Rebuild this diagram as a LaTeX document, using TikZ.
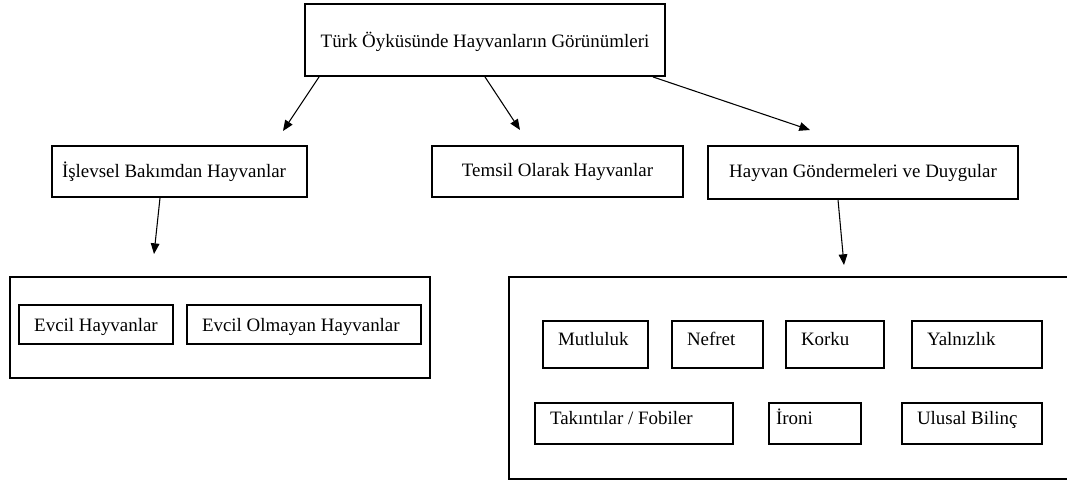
\documentclass[tikz,border=0pt]{standalone}
\usepackage{fontspec}
\setmainfont{Liberation Serif}
\usetikzlibrary{arrows.meta}

% sola yaslanmis yazi, verilen genislikte
\newcommand{\solyazi}[2]{\makebox[#1][l]{#2}}

\begin{document}
\begin{tikzpicture}[
  x=0.75pt, y=-0.75pt,
  font=\fontsize{14.2pt}{17pt}\selectfont,
  kutu/.style  = {draw, line width=1pt, inner sep=0pt},
  ana/.style   = {kutu, line width=1.4pt, align=center},
  grup/.style  = {draw, line width=1.3pt, inner sep=0pt},
  duygu/.style = {kutu, inner xsep=11.25pt, text height=0.7em, text depth=0.55em,
                  minimum height=35.25pt},
  ok/.style    = {-{Triangle[length=8pt, width=6.5pt]}, line width=0.8pt}
]
\useasboundingbox (0,0) rectangle (1067,481);
\clip (0,0) rectangle (1067,481);

% ------------------------------------------------------------- ust duzey --
\node[ana, minimum width=270pt, minimum height=54pt,
      text height=1.1em, text depth=0pt]         (ust)      at (485,40)    {Türk Öyküsünde Hayvanların Görünümleri};

\node[kutu, inner xsep=7.5pt,
      minimum height=38.25pt]                     (islevsel) at (179.5,171.5) {\solyazi{176.25pt}{İşlevsel Bakımdan Hayvanlar}};
\node[kutu, align=center, minimum width=188.25pt,
      minimum height=38.25pt]                     (temsil)   at (557.5,171.5) {Temsil Olarak Hayvanlar};
\node[kutu, align=center, minimum width=232.5pt,
      minimum height=39.75pt]                     (gonderme) at (863,172.5)   {Hayvan Göndermeleri ve Duygular};

% ---------------------------------------------------------------- gruplar --
\node[grup, minimum width=315pt, minimum height=75.75pt]    (sol) at (220,327.5) {};
\node[grup, minimum width=428.25pt, minimum height=151.5pt] (sag) at (794.5,378) {};

\node[kutu, align=center, minimum width=115.5pt,
      minimum height=29.25pt, text depth=0pt]     (evcil)     at (96,324.5)  {Evcil Hayvanlar};
\node[kutu, inner xsep=11.25pt,
      minimum height=29.25pt, text depth=0pt]     (evcildisi) at (304,324.5) {\solyazi{153pt}{Evcil Olmayan Hayvanlar}};

\node[duygu]                                      (mutluluk) at (595.5,344.5) {\solyazi{56.25pt}{Mutluluk}};
\node[duygu]                                      (nefret)   at (717.5,344.5) {\solyazi{45.75pt}{Nefret}};
\node[duygu]                                      (korku)    at (835,344.5)   {\solyazi{51pt}{Korku}};
\node[duygu]                                      (yalniz)   at (977,344.5)   {\solyazi{75pt}{Yalnızlık}};
\node[duygu, minimum height=30.75pt]              (takinti)  at (634,423.5)   {\solyazi{126pt}{Takıntılar / Fobiler}};
\node[duygu, inner xsep=5.25pt,
      minimum height=30.75pt]                     (ironi)    at (815,423.5)   {\solyazi{58.5pt}{İroni}};
\node[duygu, minimum height=30.75pt]              (ulusal)   at (972,423.5)   {\solyazi{82.5pt}{Ulusal Bilinç}};

% ------------------------------------------------------------------ oklar --
\coordinate (u1) at (283,131);
\coordinate (u2) at (520,130);
\coordinate (u3) at (810,130);
\coordinate (u4) at (154,254);
\coordinate (u5) at (844,265);

\draw[ok] ([xshift=11.25pt]ust.south west)  -- (u1);
\draw[ok] (ust.south)                       -- (u2);
\draw[ok] ([xshift=-9.75pt]ust.south east)  -- (u3);
\draw[ok] ([xshift=-14.6pt]islevsel.south)  -- (u4);
\draw[ok] ([xshift=-18.75pt]gonderme.south) -- (u5);

\end{tikzpicture}
\end{document}
